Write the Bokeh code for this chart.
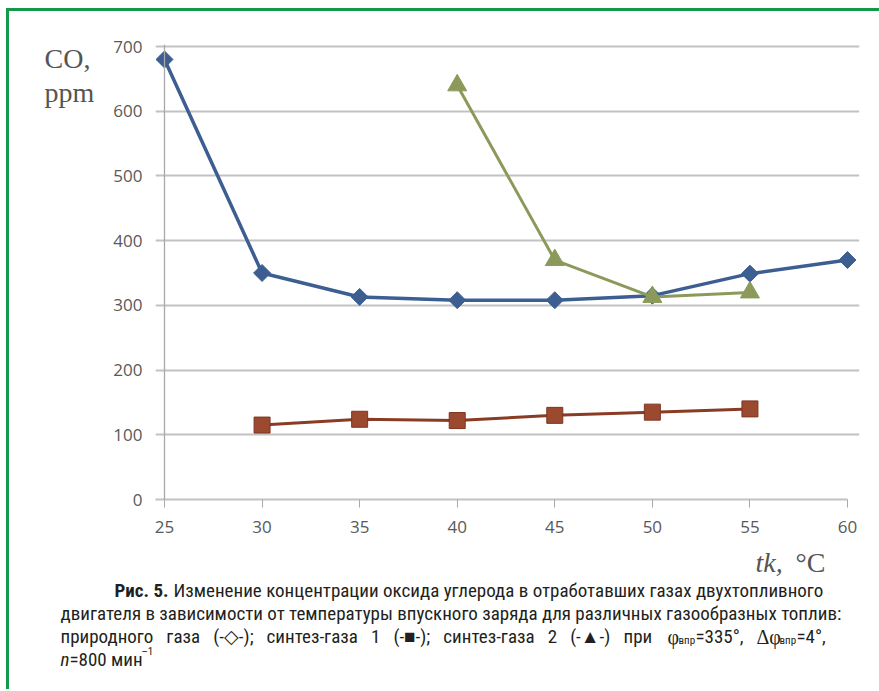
import math
from bokeh.plotting import figure
from bokeh.models import Range1d, Label, FixedTicker, Span
from bokeh.layouts import column
from bokeh.embed import file_html
from bokeh.resources import INLINE

# ---- data ----
x_ticks = [25, 30, 35, 40, 45, 50, 55, 60]
y_ticks = [0, 100, 200, 300, 400, 500, 600, 700]

natural_gas_x = [25, 30, 35, 40, 45, 50, 55, 60]
natural_gas = [680, 350, 313, 308, 308, 315, 349, 370]

syngas1_x = [30, 35, 40, 45, 50, 55]
syngas1 = [115, 124, 122, 130, 135, 140]

syngas2_x = [40, 45, 50, 55]
syngas2 = [640, 370, 313, 320]

# ---- geometry (page pixels) ----
ORG_X, ORG_Y = 9, 11            # canvas origin on page (css margin + border)
W = 870
SPLIT = 544                     # page y where the caption figure starts
H1 = SPLIT - ORG_Y
H2 = 145
X25_PX, X60_PX = 164, 847
Y0_PX, Y700_PX = 499, 46
UPX = 35.0 / (X60_PX - X25_PX)
VPX = 700.0 / (Y0_PX - Y700_PX)
FL, FR, FT = 155, 859, 44

x_start = 25 - (X25_PX - FL) * UPX
x_end = 60 + (FR - X60_PX) * UPX
y_end = 700 + (Y700_PX - FT) * VPX


def X(px):
    return 25 + (px - X25_PX) * UPX


def Y(py):
    return (Y0_PX - py) * VPX


p = figure(width=W, height=H1, output_backend="svg", toolbar_location=None,
           x_range=Range1d(x_start, x_end), y_range=Range1d(0, y_end),
           min_border_left=FL - ORG_X, min_border_right=(ORG_X + W) - FR,
           min_border_top=FT - ORG_Y, min_border_bottom=SPLIT - Y0_PX)
p.outline_line_color = None
p.background_fill_color = "white"
p.border_fill_color = "white"

GRID = "#c2c2c2"
AX = "#a8a8a8"
TICKFONT = "Open Sans"

p.xaxis.ticker = FixedTicker(ticks=x_ticks)
p.xaxis.bounds = (x_start, 60)
p.xaxis.axis_line_color = GRID
p.xaxis.axis_line_width = 2
p.xaxis.major_tick_line_color = AX
p.xaxis.major_tick_out = 8
p.xaxis.major_tick_in = 0
p.xaxis.minor_tick_line_color = None
p.xaxis.major_label_standoff = 13
p.xaxis.major_label_text_font = TICKFONT
p.xaxis.major_label_text_font_size = "17px"
p.xaxis.major_label_text_color = "#595959"

p.yaxis.ticker = FixedTicker(ticks=y_ticks)
p.yaxis.axis_line_color = None
p.yaxis.major_tick_line_color = None
p.yaxis.minor_tick_line_color = None
p.yaxis.major_tick_out = 0
p.yaxis.major_tick_in = 0
p.yaxis.major_label_standoff = 13
p.yaxis.major_label_text_font = TICKFONT
p.yaxis.major_label_text_font_size = "17px"
p.yaxis.major_label_text_color = "#595959"

p.xgrid.visible = False
p.ygrid.grid_line_color = GRID
p.ygrid.grid_line_width = 2
p.ygrid.bounds = (x_start, 60)

p.add_layout(Span(location=25, dimension="height", line_color=AX, line_width=1.3))

BLUE = "#3c5e91"
RED = "#9b4a2f"
GREEN = "#8b9a5b"

p.line(natural_gas_x, natural_gas, line_color=BLUE, line_width=3.5)
p.scatter(natural_gas_x, natural_gas, marker="square", angle=math.pi / 4, size=12,
          fill_color=BLUE, line_color=BLUE)

p.line(syngas1_x, syngas1, line_color="#8a3b24", line_width=3)
p.scatter(syngas1_x, syngas1, marker="square", size=16,
          fill_color=RED, line_color="#7e3520", line_width=1)

p.line(syngas2_x, syngas2, line_color=GREEN, line_width=3)
p.scatter(syngas2_x, syngas2, marker="triangle", size=19,
          fill_color=GREEN, line_color=GREEN)

SERIF = "Liberation Serif"
# y-axis title, placed in the left side panel (not clipped by the frame)
p.add_layout(Label(x=X(44), y=Y(42), text="CO,\nppm", text_font=SERIF,
                   text_font_size="28px", text_color="#555555", text_align="left",
                   text_baseline="top", text_line_height=1.1), "left")

# ---- caption figure (pixel coordinates, y down) ----
c = figure(width=W, height=H2, output_backend="svg", toolbar_location=None,
           x_range=Range1d(0, W), y_range=Range1d(H2, 0),
           x_axis_type=None, y_axis_type=None,
           min_border_left=0, min_border_right=0, min_border_top=0, min_border_bottom=0)
c.grid.visible = False
c.outline_line_color = None
c.background_fill_color = "white"
c.border_fill_color = "white"

# keep each figure's frame independent (no frame alignment inside the column)
p.frame_align = False
c.frame_align = False


def lab(px, py, text, size, font, style="normal", color="#231f20", align="left",
        baseline="alphabetic"):
    c.add_layout(Label(x=px - ORG_X, y=py - SPLIT, text=text, text_font=font,
                       text_font_size=f"{size}px", text_font_style=style,
                       text_color=color, text_align=align, text_baseline=baseline))


lab(755, 562, "tk,", 28, SERIF, style="italic", color="#555555")
lab(795, 562, "°C", 28, SERIF, color="#555555")

CAP = "Roboto Condensed"
CS = 19
B1, B2, B3, B4 = 590, 613, 636, 659
LM = 60
lab(168, B1, "Рис. 5.", CS, CAP, style="bold", align="right")
lab(173, B1, "Изменение концентрации оксида углерода в отработавших газах двухтопливного", CS, CAP)
lab(LM, B2, "двигателя в зависимости от температуры впускного заряда для различных газообразных топлив:",
    CS, CAP)
sp = " \u00a0\u00a0"
lab(LM, B3, sp.join(["природного", "газа", "(-◇-);", "синтез-газа", "1", "(-■-);",
                     "синтез-газа", "2", "(-▲-)", "при"]), CS, CAP)
lab(667, B3, "φ", 20, SERIF)
lab(678, B3 + 4, "впр", 11, CAP)
lab(695, B3, "=335°,", CS, CAP)
lab(756, B3, "Δφ", 20, SERIF)
lab(779, B3 + 4, "впр", 11, CAP)
lab(796, B3, "=4°,", CS, CAP)
lab(LM, B4, "n", CS, CAP, style="italic")
lab(LM + 9, B4, "=800 мин", CS, CAP)
lab(LM + 81, B4 - 8, "–1", 11, CAP)

layout = column(p, c, spacing=0,
                styles={"margin-left": "6px", "margin-top": "8px",
                        "border-left": "3px solid #129a4a", "border-top": "3px solid #129a4a"})

open("out.html", "w").write(file_html(layout, INLINE))
